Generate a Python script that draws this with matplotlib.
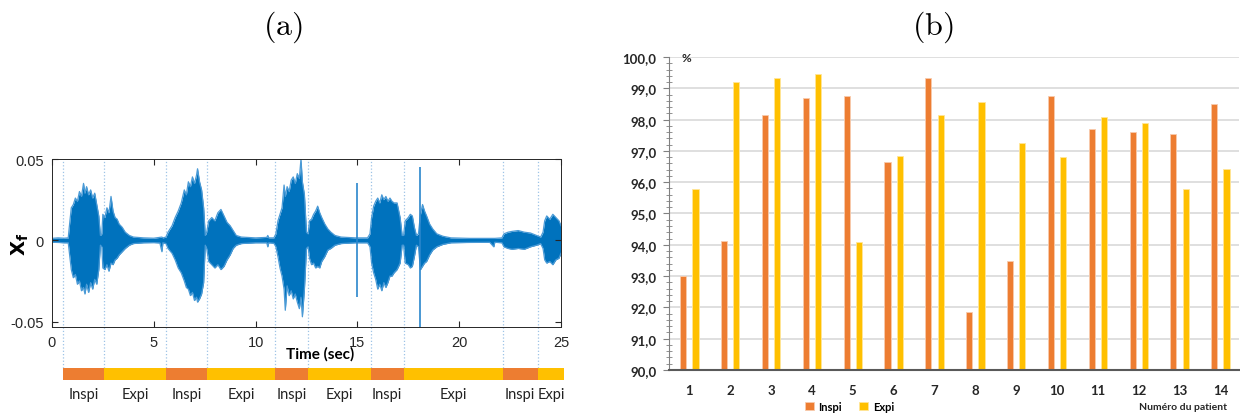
#!/usr/bin/env python3
import numpy as np
from matplotlib import pyplot as plt

# ---- panel (a): breath sound envelope (in 1e-3 units)
env_t = [0.0, 0.3, 0.6, 0.8,
         0.85, 0.95, 1.05, 1.15, 1.25, 1.35, 1.45, 1.55, 1.62, 1.7, 1.8, 1.9, 2.0, 2.1, 2.2, 2.3, 2.38,
         2.45, 2.5, 2.6, 2.7, 2.8, 2.9, 3.0, 3.1, 3.2, 3.3, 3.45, 3.6, 3.8, 4.0,
         4.5, 5.0, 5.3, 5.4, 5.45, 5.6,
         5.7, 5.9, 6.05, 6.2, 6.35, 6.5, 6.6, 6.7, 6.8, 6.9, 7.0, 7.1, 7.15, 7.25, 7.35, 7.45, 7.53,
         7.6, 7.7, 7.85, 8.0, 8.15, 8.3, 8.45, 8.6, 8.75, 8.9, 9.05, 9.3,
         10.0, 10.55, 10.6, 10.65, 10.9,
         11.0, 11.1, 11.2, 11.3, 11.4, 11.46, 11.55, 11.65, 11.75, 11.85, 11.95, 12.05, 12.15, 12.23,
         12.3, 12.4, 12.5,
         12.58, 12.65, 12.75, 12.85, 12.95, 13.05, 13.15, 13.25, 13.4, 13.55, 13.7, 13.9, 14.2,
         14.9, 15.5,
         15.62, 15.7, 15.8, 15.9, 16.0, 16.1, 16.2, 16.3, 16.4, 16.5, 16.6, 16.7, 16.8, 16.95, 17.1, 17.2,
         17.27, 17.35, 17.5, 17.6, 17.7, 17.8, 17.9,
         18.0, 18.1, 18.2, 18.3, 18.4, 18.55, 18.7, 18.9, 19.2, 19.6,
         20.5, 21.5, 21.7, 21.75, 22.1,
         22.2, 22.4, 22.6, 22.9, 23.2, 23.5, 23.8, 24.0,
         24.12, 24.2, 24.3, 24.45, 24.6, 24.75, 24.9, 25.0]
env_hi = [1.2, 1.5, 1.3, 1.5,
          8, 20, 22, 26, 24, 30, 27, 35, 29, 33, 28, 31, 26, 29, 22, 15, 3,
          4, 16, 14, 20, 17, 27, 18, 14, 13, 10, 8, 5, 3, 2,
          1.5, 1.3, 1.8, 2, 1.5, 2,
          5, 9, 14, 18, 23, 31, 28, 36, 33, 39, 35, 40, 44, 36, 31, 20, 3,
          5, 12, 14, 12, 17, 19, 15, 11, 9, 6, 3, 2,
          1.5, 1.8, 3, 1.5, 1.5,
          4, 12, 16, 20, 34, 27, 33, 30, 37, 39, 35, 41, 38, 50,
          36, 28, 5,
          4, 12, 13, 16, 18, 21, 17, 14, 10, 7, 5, 3, 2,
          1.5, 1.5,
          4, 14, 21, 24, 26, 23, 28, 25, 27, 24, 26, 24, 23, 23, 14, 3,
          3, 12, 14, 16, 15, 8, 3,
          4, 16, 22, 18, 15, 10, 7, 4, 2.5, 1.5,
          1.2, 1.2, 1.2, 1.2, 1.5,
          4, 5, 5.5, 6, 5, 4.5, 3, 2,
          5, 12, 15, 13, 16, 14, 12, 9]
env_lo = [-1.2, -1.3, -1.5, -1.5,
          -7, -18, -23, -21, -27, -25, -31, -29, -33, -27, -32, -26, -30, -24, -27, -18, -3,
          -4, -17, -18, -15, -19, -14, -15, -12, -11, -9, -7, -5, -3, -2,
          -1.5, -1.4, -1.6, -7, -1.5, -2,
          -5, -8, -12, -17, -20, -25, -29, -30, -34, -32, -37, -35, -38, -36, -33, -26, -3,
          -5, -13, -15, -17, -15, -18, -16, -12, -9, -5, -3, -2,
          -1.5, -1.5, -4, -1.5, -1.8,
          -4, -10, -17, -22, -30, -43, -28, -34, -31, -36, -33, -38, -42, -35,
          -47, -30, -5,
          -4, -11, -15, -14, -17, -16, -17, -13, -10, -6, -5, -3, -2,
          -1.5, -1.5,
          -4, -14, -20, -24, -30, -27, -31, -26, -29, -26, -22, -22, -20, -18, -14, -3,
          -3, -14, -15, -17, -16, -10, -3,
          -4, -18, -16, -14, -13, -9, -6, -4, -2.5, -1.5,
          -1.3, -1.2, -4, -1.2, -1.5,
          -4, -5, -5.5, -5, -5.5, -4, -3, -2,
          -5, -12, -14, -13, -15, -12, -11, -8]

# isolated clicks
spike_t = [14.98, 18.09]
spike_hi = [35, 45]
spike_lo = [-35, -53]

# respiratory phases
phase_edges = [0.555, 2.57, 5.61, 7.61, 10.97, 12.59, 15.65, 17.27, 22.14, 23.86, 25.15]
phase_names = ['Inspi', 'Expi', 'Inspi', 'Expi', 'Inspi', 'Expi', 'Inspi', 'Expi', 'Inspi', 'Expi']

# ---- panel (b): per patient scores
patients = list(range(1, 15))
inspi = [93.0, 94.12, 98.14, 98.69, 98.74, 96.64, 99.32, 91.86, 93.48, 98.75, 97.69, 97.60, 97.53, 98.50]
expi = [95.78, 99.20, 99.32, 99.47, 94.09, 96.83, 98.14, 98.55, 97.24, 96.79, 98.08, 97.90, 95.77, 96.42]

ORANGE = '#ED7D31'
YELLOW = '#FFC000'
BLUE = '#0072BD'


def main():
    fig = plt.figure(figsize=(12.4, 4.14), dpi=100)

    # ---------------- (a)
    ax = fig.add_axes([0.0419, 0.2077, 0.4105, 0.4058])
    t = np.array(env_t)
    hi = np.array(env_hi) / 1000
    lo = np.array(env_lo) / 1000
    ax.fill_between(t, lo, hi, color=BLUE, linewidth=0)
    ax.plot(t, hi, color='#4a9ad6', linewidth=0.9)
    ax.plot(t, lo, color='#4a9ad6', linewidth=0.9)
    ax.vlines(spike_t, np.array(spike_lo) / 1000, np.array(spike_hi) / 1000,
              color='#2a86cc', linewidth=1.2)
    ax.set_xlim(0, 25)
    ax.set_ylim(-0.0533, 0.05)
    ax.set_xticks([0, 5, 10, 15, 20, 25])
    ax.set_yticks([-0.05, 0, 0.05])
    ax.set_yticklabels(['-0.05', '0', '0.05'])
    ax.tick_params(direction='in', top=True, right=True, length=4, width=0.8,
                   labelsize=10.5, colors='#262626', pad=6)
    for lab in ax.get_xticklabels() + ax.get_yticklabels():
        lab.set_fontfamily('Liberation Sans')
    for s in ax.spines.values():
        s.set_color('#262626')
        s.set_linewidth(0.7)

    for e in phase_edges[:-1]:
        ax.axvline(e, ymin=-0.244, ymax=1, color='#9DC3E6', linestyle=':',
                   linewidth=0.9, clip_on=False, zorder=0)

    ax.text(0.526, -0.155, 'Time (sec)', transform=ax.transAxes, ha='center', va='center',
            fontsize=11, fontweight='bold', family='Lato')
    ax.text(-0.062, 0.5, r'$\mathbf{X}_{\mathbf{f}}$', transform=ax.transAxes, rotation=90,
            ha='center', va='center', fontsize=14, math_fontfamily='dejavusans')

    axp = fig.add_axes([0.0419, 0.0797, 0.4105, 0.029])
    axp.set_xlim(0, 25)
    axp.set_ylim(0, 1)
    axp.axis('off')
    for i, name in enumerate(phase_names):
        x0, x1 = phase_edges[i], phase_edges[i + 1]
        axp.barh(0.5, x1 - x0, left=x0, height=1, color=ORANGE if name == 'Inspi' else YELLOW,
                 clip_on=False)
        axp.text((x0 + x1) / 2, -0.55, name, ha='center', va='top', fontsize=10.5,
                 family='Lato', color='#222222')

    fig.text(0.228, 0.935, r'$\mathrm{(a)}$', ha='center', va='center', fontsize=23)

    # ---------------- (b)
    bx = fig.add_axes([0.5395, 0.1039, 0.4595, 0.756])
    x = np.array(patients)
    w = 0.15
    bx.bar(x - w, [v - 90 for v in inspi], bottom=90, width=w, color=ORANGE,
           edgecolor='#F8CBAD', linewidth=0.6, label='Inspi', zorder=3)
    bx.bar(x + w, [v - 90 for v in expi], bottom=90, width=w, color=YELLOW,
           edgecolor='#FFE699', linewidth=0.6, label='Expi', zorder=3)
    bx.set_xlim(0.5, 14.45)
    bx.set_ylim(90, 100)
    bx.set_xticks(patients)
    bx.set_xticklabels([str(p) for p in patients])
    yt = np.arange(90, 100.5, 1.0)
    bx.set_yticks(yt)
    bx.set_yticklabels([f'{v:.1f}'.replace('.', ',') for v in yt])
    bx.set_yticks(np.arange(90, 100.01, 0.2), minor=True)
    bx.grid(axis='y', color='#D9D9D9', linewidth=1.2, zorder=0)
    bx.tick_params(axis='x', length=0, pad=10, labelsize=9.5, colors='#262626')
    bx.tick_params(axis='y', which='major', direction='out', length=4, color='#808080',
                   labelsize=9.5, labelcolor='#262626', pad=5)
    bx.tick_params(axis='y', which='minor', direction='inout', length=4, color='#808080')
    for lab in bx.get_xticklabels() + bx.get_yticklabels():
        lab.set_fontweight('bold')
        lab.set_fontfamily('Lato')
    for s in ('top', 'right'):
        bx.spines[s].set_visible(False)
    bx.spines['left'].set_color('#808080')
    bx.spines['bottom'].set_color('#595959')
    bx.spines['bottom'].set_linewidth(1.5)
    bx.spines['bottom'].set_zorder(4)

    bx.text(0.03, 1.0, '%', transform=bx.transAxes, ha='center', va='center',
            fontsize=8.5, fontweight='bold', family='Lato', color='#262626')
    fig.legend(loc='center', bbox_to_anchor=(0.685, 0.016), ncol=2, frameon=False,
               prop={'family': 'Lato', 'weight': 'bold', 'size': 8},
               handlelength=0.8, handleheight=0.8, handletextpad=0.4, columnspacing=1.6)
    fig.text(0.954, 0.016, 'Numéro du patient', ha='center', va='center', fontsize=7.5,
             fontweight='bold', family='Lato', color='#262626')

    fig.text(0.752, 0.935, r'$\mathrm{(b)}$', ha='center', va='center', fontsize=23)

    fig.savefig('out.png', dpi=100)


if __name__ == '__main__':
    plt.rcParams['mathtext.fontset'] = 'cm'
    main()
